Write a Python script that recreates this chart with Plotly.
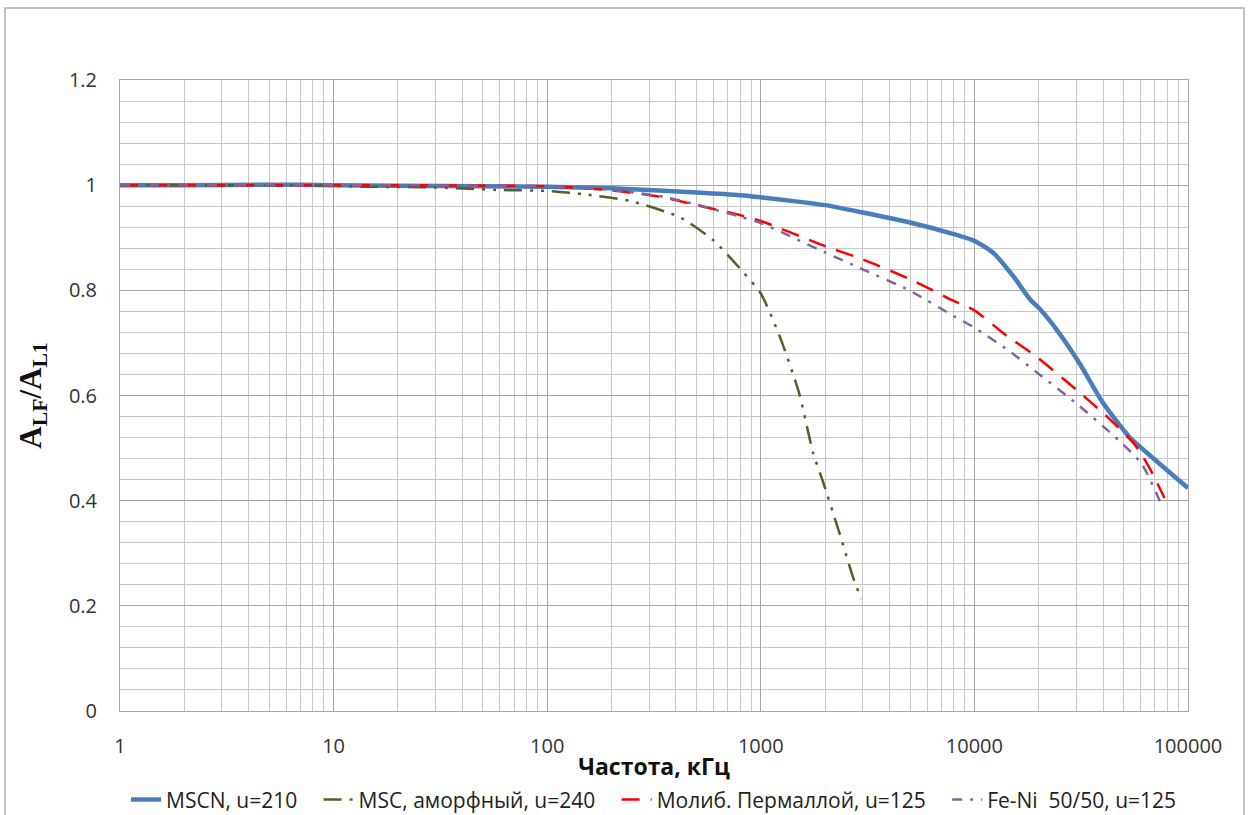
import plotly.graph_objects as go

# ---- data ----
f_mscn = [1, 2, 5, 10, 20, 50, 100, 200, 500, 800, 1000, 2000, 3000, 5000, 8000,
          10000, 12200, 15200, 18200, 20300, 24400, 31200, 40000, 53200, 70900, 100000]
y_mscn = [1.0, 1.0, 1.001, 1.0, 0.999, 0.998, 0.997, 0.994, 0.986, 0.981, 0.977,
          0.962, 0.948, 0.929, 0.907, 0.894, 0.872, 0.827, 0.783, 0.764, 0.724,
          0.660, 0.586, 0.521, 0.476, 0.424]

f_msc = [1, 2, 5, 10, 14, 28, 58, 100, 147, 244, 418, 600, 813, 1000, 1230, 1510,
         1757, 1955, 2300, 2700, 2950]
y_msc = [1.0, 1.0, 1.0, 0.999, 0.997, 0.996, 0.991, 0.989, 0.983, 0.970, 0.939,
         0.895, 0.838, 0.794, 0.711, 0.605, 0.491, 0.436, 0.347, 0.255, 0.213]

f_moly = [1, 2, 5, 10, 20, 50, 100, 200, 350, 500, 800, 1000, 2000, 3000, 5000,
          8000, 10000, 13800, 19200, 30200, 42000, 56000, 65900, 77600]
y_moly = [1.0, 1.0, 1.0, 1.0, 1.0, 0.999, 0.998, 0.990, 0.977, 0.962, 0.943, 0.932,
          0.884, 0.859, 0.821, 0.780, 0.762, 0.717, 0.676, 0.610, 0.559, 0.508,
          0.463, 0.405]

f_feni = [1, 2, 5, 10, 20, 50, 100, 200, 350, 500, 800, 1000, 2000, 3000, 5000,
          8000, 10000, 14400, 20000, 30200, 45600, 60700, 74600]
y_feni = [1.0, 1.0, 1.0, 1.0, 1.0, 0.999, 0.998, 0.991, 0.978, 0.963, 0.940, 0.928,
          0.872, 0.840, 0.799, 0.751, 0.729, 0.686, 0.641, 0.584, 0.521, 0.470,
          0.395]

names = ["MSCN, u=210", "MSC, аморфный, u=240", "Молиб. Пермаллой, u=125",
         "Fe-Ni  50/50, u=125"]

x_ticks = [1, 10, 100, 1000, 10000, 100000]
x_tick_text = ["1", "10", "100", "1000", "10000", "100000"]
x_minor = [k * 10 ** d for d in range(5) for k in range(2, 10)]
y_ticks = [0, 0.2, 0.4, 0.6, 0.8, 1.0, 1.2]
y_tick_text = ["0", "0.2", "0.4", "0.6", "0.8", "1", "1.2"]

FONT = "Open Sans, Liberation Sans, sans-serif"
PAD = "\u00a0\u00a0\u00a0"

fig = go.Figure()
fig.add_trace(go.Scatter(x=f_mscn, y=y_mscn, name=names[0] + PAD, mode="lines",
                         line=dict(color="#4A7EBB", width=4.5, shape="spline", smoothing=0.6)))
fig.add_trace(go.Scatter(x=f_msc, y=y_msc, name=names[1] + PAD, mode="lines",
                         line=dict(color="#4F6228", width=2.5, shape="spline", smoothing=0.6,
                                   dash="18px,8px,3px,8px,3px,8px")))
fig.add_trace(go.Scatter(x=f_moly, y=y_moly, name=names[2] + PAD, mode="lines",
                         line=dict(color="#FF0000", width=2.5, shape="spline", smoothing=0.6,
                                   dash="18px,11px")))
fig.add_trace(go.Scatter(x=f_feni, y=y_feni, name=names[3], mode="lines",
                         line=dict(color="#8064A2", width=2.5, shape="spline", smoothing=0.6,
                                   dash="10px,8px,3px,8px")))

fig.update_layout(
    width=1248, height=815,
    margin=dict(l=120, r=60, t=80, b=104, autoexpand=False),
    paper_bgcolor="white", plot_bgcolor="white",
    font=dict(family=FONT, size=20, color="#333333"),
    showlegend=True,
    legend=dict(orientation="h", x=0.5, xanchor="center", y=-0.141, yanchor="middle",
                font=dict(family=FONT, size=21, color="#222222"),
                bgcolor="rgba(0,0,0,0)"),
    shapes=[dict(type="rect", xref="paper", yref="paper",
                 x0=-0.1077, x1=1.0524, y0=-0.25, y1=1.1141,
                 line=dict(color="#b0b0b0", width=1.5), layer="below")],
)

fig.update_xaxes(
    type="log", range=[0, 5], automargin=False,
    tickvals=x_ticks, ticktext=x_tick_text,
    showgrid=True, gridcolor="#a6a6a6", gridwidth=1,
    minor=dict(showgrid=True, gridcolor="#c8c8c8", gridwidth=1,
               tickmode="array", tickvals=x_minor, ticks=""),
    showline=True, linecolor="#a6a6a6", linewidth=1, mirror=True,
    ticks="", ticklabelstandoff=17, zeroline=False,
    tickfont=dict(family=FONT, size=20, color="#333333"),
    title=dict(text="<b>Частота, кГц</b>", standoff=0,
               font=dict(family=FONT, size=23, color="#111111")),
)
fig.update_yaxes(
    range=[0, 1.2], tickvals=y_ticks, ticktext=y_tick_text, automargin=False,
    showgrid=True, gridcolor="#a6a6a6", gridwidth=1,
    minor=dict(showgrid=True, gridcolor="#c8c8c8", gridwidth=1, dtick=0.04, ticks=""),
    showline=True, linecolor="#a6a6a6", linewidth=1, mirror=True,
    ticks="", ticklabelstandoff=18, zeroline=False,
    tickfont=dict(family=FONT, size=20, color="#333333"),
    title=dict(text="<b>A<sub>LF</sub>/A<sub>L1</sub></b>", standoff=18,
               font=dict(family="Liberation Serif, Times New Roman, serif", size=31,
                         color="#111111")),
)

fig.write_html("out.html")
